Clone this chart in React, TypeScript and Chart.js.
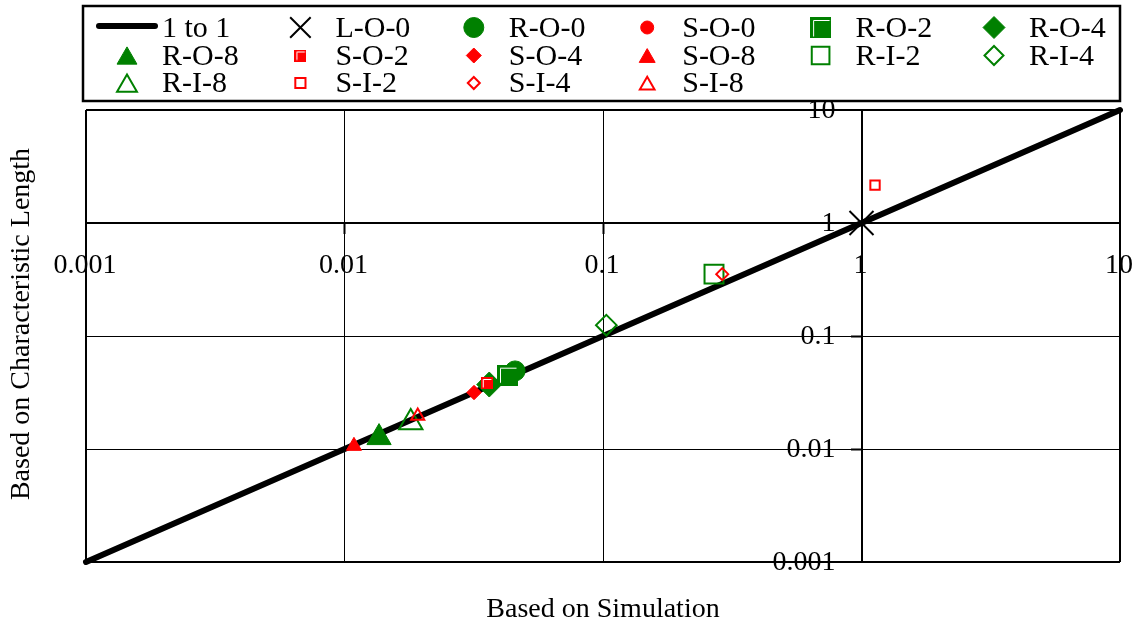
import React, { useEffect, useRef } from "react";
import { Chart, registerables } from "chart.js";
import { drawPoint } from "chart.js/helpers";

Chart.register(...registerables);

const GREEN = "#008000";
const RED = "#ff0000";
const FONT = '"Liberation Serif", "Times New Roman", serif';

// Decade ticks shared by both logarithmic axes
const TICK_VALUES = [0.001, 0.01, 0.1, 1, 10];
const TICK_LABELS = ["0.001", "0.01", "0.1", "1", "10"];

const X_TITLE = "Based on Simulation";
const Y_TITLE = "Based on Characteristic Length";

// Reference line
const LINE_LABEL = "1 to 1";
const lineX = [0.001, 10];
const lineY = [0.001, 10];

// Case names and their values
const seriesNames = [
  "L-O-0", "R-O-0", "S-O-0", "R-O-2", "R-O-4", "R-O-8",
  "S-O-2", "S-O-4", "S-O-8", "R-I-2", "R-I-4", "R-I-8",
  "S-I-2", "S-I-4", "S-I-8",
];
const simulationValues = [
  1, 0.0457, 0.0352, 0.0427, 0.0363, 0.0136,
  0.0355, 0.0317, 0.01088, 0.2688, 0.103, 0.01804,
  1.128, 0.2893, 0.0192,
];
const characteristicValues = [
  1, 0.0491, 0.0378, 0.045, 0.0372, 0.01262,
  0.0384, 0.0316, 0.01063, 0.3527, 0.1247, 0.01714,
  2.166, 0.3527, 0.01956,
];

type Marker = {
  color: string;
  style: string; // circle | rect | rectRot | triangle | crossRot | insetSquare
  filled: boolean;
  radius: number;
  legendRadius: number;
  side?: number;
};

// Marker appearance for each case, in the same order as seriesNames
const markerStyles: Marker[] = [
  { color: "#000", style: "crossRot", filled: false, radius: 17, legendRadius: 14.5 },
  { color: GREEN, style: "circle", filled: true, radius: 10, legendRadius: 10 },
  { color: RED, style: "circle", filled: true, radius: 6, legendRadius: 6.5 },
  { color: GREEN, style: "insetSquare", filled: true, radius: 15, legendRadius: 14, side: 21 },
  { color: GREEN, style: "rectRot", filled: true, radius: 12.5, legendRadius: 11 },
  { color: GREEN, style: "triangle", filled: true, radius: 14, legendRadius: 11.5 },
  { color: RED, style: "insetSquare", filled: true, radius: 8.5, legendRadius: 8.5, side: 12 },
  { color: RED, style: "rectRot", filled: true, radius: 7.2, legendRadius: 7.5 },
  { color: RED, style: "triangle", filled: true, radius: 8.7, legendRadius: 9.2 },
  { color: GREEN, style: "rect", filled: false, radius: 13.4, legendRadius: 12.5 },
  { color: GREEN, style: "rectRot", filled: false, radius: 10.3, legendRadius: 9.5 },
  { color: GREEN, style: "triangle", filled: false, radius: 13.5, legendRadius: 11.5 },
  { color: RED, style: "rect", filled: false, radius: 6.6, legendRadius: 7.2 },
  { color: RED, style: "rectRot", filled: false, radius: 6, legendRadius: 6 },
  { color: RED, style: "triangle", filled: false, radius: 7.5, legendRadius: 8.5 },
];

// Filled square with a thin white inset corner, as drawn by the plotting package
function makeInsetSquare(color: string, side: number): HTMLCanvasElement {
  const c = document.createElement("canvas");
  c.width = side;
  c.height = side;
  const g = c.getContext("2d")!;
  g.fillStyle = color;
  g.fillRect(0, 0, side, side);
  g.strokeStyle = "#ffffff";
  g.lineWidth = 1;
  const o = Math.round(side * 0.15) + 0.5;
  g.beginPath();
  g.moveTo(o, side - 1.5);
  g.lineTo(o, o);
  g.lineTo(side - 1.5, o);
  g.stroke();
  return c;
}

function gridWidth(ctx: any): number {
  const v = ctx?.tick?.value;
  if (v === undefined) return 1;
  return v === 0.01 || v === 0.1 ? 1 : 2;
}

export default function App() {
  const canvasRef = useRef<HTMLCanvasElement | null>(null);

  useEffect(() => {
    const canvas = canvasRef.current;
    if (!canvas) return;

    const pointImages = markerStyles.map((m) =>
      m.style === "insetSquare" ? makeInsetSquare(m.color, m.side || 12) : null
    );
    const styleOf = (i: number): any => pointImages[i] || markerStyles[i].style;

    const n = seriesNames.length;
    const markerSets = seriesNames.map((name, i) => {
      const m = markerStyles[i];
      return {
        label: name,
        data: [{ x: simulationValues[i], y: characteristicValues[i] }],
        showLine: false,
        pointStyle: styleOf(i),
        pointRadius: m.radius,
        pointHoverRadius: m.radius,
        pointBackgroundColor: m.filled ? m.color : "rgba(0,0,0,0)",
        pointBorderColor: m.color,
        pointBorderWidth: m.filled ? 1 : 2,
        order: n - i,
      };
    });

    const lineSet = {
      label: LINE_LABEL,
      data: lineX.map((x, i) => ({ x, y: lineY[i] })),
      showLine: true,
      borderColor: "#000",
      borderWidth: 6,
      borderCapStyle: "round",
      pointRadius: 0,
      clip: false,
      order: 100,
    };

    const overlay = {
      id: "overlay",
      afterDraw(chart: any) {
        const ctx: CanvasRenderingContext2D = chart.ctx;
        const area = chart.chartArea;
        const xs = chart.scales.x;
        const ys = chart.scales.y;
        ctx.save();

        // Axis value labels placed beside the axes that cross at (1, 1)
        ctx.fillStyle = "#000";
        ctx.font = `28px ${FONT}`;
        ctx.textBaseline = "middle";
        const axisX = xs.getPixelForValue(1);
        const axisY = ys.getPixelForValue(1);
        ctx.textAlign = "right";
        TICK_VALUES.forEach((v, i) => {
          ctx.fillText(TICK_LABELS[i], axisX - 26, ys.getPixelForValue(v) + 1);
        });
        ctx.textAlign = "center";
        TICK_VALUES.forEach((v, i) => {
          ctx.fillText(TICK_LABELS[i], xs.getPixelForValue(v) - 1, axisY + 43);
        });

        // Axis titles
        ctx.fillText(X_TITLE, (area.left + area.right) / 2, 610);
        ctx.save();
        ctx.translate(22, 324);
        ctx.rotate(-Math.PI / 2);
        ctx.fillText(Y_TITLE, 0, 0);
        ctx.restore();

        // Legend frame
        const lgLeft = area.left - 3;
        const lgRight = area.right;
        ctx.strokeStyle = "#000";
        ctx.lineWidth = 2.5;
        ctx.strokeRect(lgLeft, 6, lgRight - lgLeft, 95);

        // Legend entries, six per row
        const colX = (c: number) => lgLeft + 44 + c * 173.4;
        const rowY = [27.5, 55.5, 83];
        const baseY = [37, 65, 92];
        ctx.font = `30px ${FONT}`;
        ctx.textBaseline = "alphabetic";
        ctx.textAlign = "left";
        const entries = [LINE_LABEL, ...seriesNames];
        entries.forEach((label, k) => {
          const c = k % 6;
          const r = Math.floor(k / 6);
          const cx = colX(c);
          const cy = rowY[r];
          if (k === 0) {
            ctx.strokeStyle = "#000";
            ctx.lineWidth = 6;
            ctx.lineCap = "round";
            ctx.beginPath();
            ctx.moveTo(cx - 28, cy - 1.5);
            ctx.lineTo(cx + 28, cy - 1.5);
            ctx.stroke();
            ctx.lineCap = "butt";
          } else {
            const i = k - 1;
            const m = markerStyles[i];
            ctx.fillStyle = m.filled ? m.color : "rgba(0,0,0,0)";
            ctx.strokeStyle = m.color;
            ctx.lineWidth = m.filled ? 1 : 2;
            const dy = m.style === "triangle" ? m.legendRadius / 4 : 0;
            drawPoint(
              ctx,
              { pointStyle: styleOf(i), rotation: 0, radius: m.legendRadius, borderWidth: ctx.lineWidth } as any,
              cx,
              cy + dy
            );
          }
          ctx.fillStyle = "#000";
          ctx.fillText(label, cx + 35, baseY[r]);
        });

        ctx.restore();
      },
    };

    const axisOptions = (positionAt: any, fitZero: (s: any) => void) => ({
      type: "logarithmic",
      min: 0.001,
      max: 10,
      position: positionAt,
      afterBuildTicks: (s: any) => {
        s.ticks = TICK_VALUES.map((v) => ({ value: v }));
      },
      afterFit: fitZero,
      ticks: { display: false, autoSkip: false },
      grid: {
        color: "#000",
        lineWidth: gridWidth,
        tickLength: 10,
        tickWidth: 2,
        tickColor: "#000",
      },
      border: { color: "#000", width: 2 },
    });

    const chart = new Chart(canvas, {
      type: "scatter",
      data: { datasets: [lineSet as any, ...markerSets] },
      options: {
        animation: false,
        responsive: false,
        devicePixelRatio: 1,
        layout: { padding: { left: 86, right: 20, top: 110, bottom: 64 } },
        plugins: {
          legend: { display: false },
          title: { display: false },
          tooltip: { enabled: false },
        },
        scales: {
          x: axisOptions({ y: 1 }, (s: any) => {
            s.height = 0;
          }),
          y: axisOptions({ x: 1 }, (s: any) => {
            s.width = 0;
          }),
        },
      } as any,
      plugins: [overlay as any],
    });

    return () => {
      chart.destroy();
    };
  }, []);

  return (
    <div style={{ position: "absolute", left: 0, top: 0, width: 1140, height: 626, background: "#fff" }}>
      <canvas ref={canvasRef} width={1140} height={626} style={{ display: "block" }} />
    </div>
  );
}
